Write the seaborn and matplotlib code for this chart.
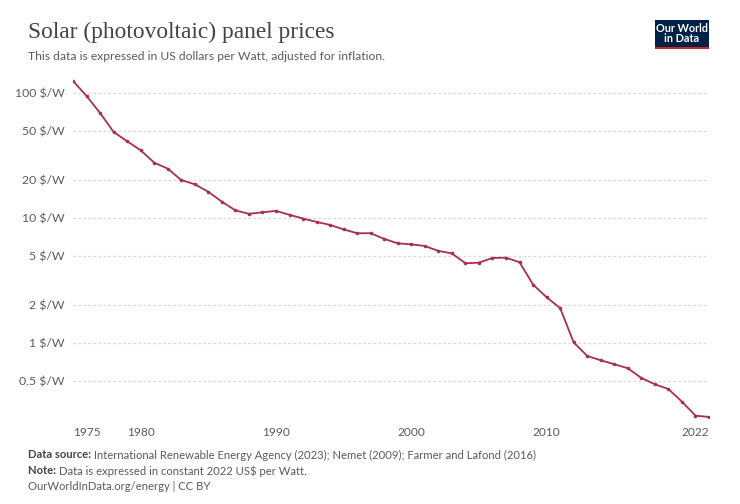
import pandas as pd
import seaborn as sns
import matplotlib.pyplot as plt
import numpy as np
from matplotlib.patches import Rectangle
from matplotlib.ticker import FixedLocator, NullLocator

# Data (US$ per Watt, constant 2022 dollars)
years = list(range(1975, 2023))
prices = [125.0, 94.6, 69.2, 48.8, 41.1, 34.8, 27.7, 24.8, 20.1, 18.6,
          16.2, 13.5, 11.5, 10.8, 11.1, 11.4, 10.6, 9.9, 9.3, 8.8,
          8.1, 7.55, 7.55, 6.8, 6.27, 6.15, 5.97, 5.45, 5.21, 4.34,
          4.39, 4.79, 4.81, 4.42, 2.93, 2.32, 1.90, 1.01, 0.787, 0.727,
          0.676, 0.628, 0.525, 0.467, 0.428, 0.339, 0.262, 0.256]

y_ticks = [0.5, 1, 2, 5, 10, 20, 50, 100]
y_labels = ['0.5 $/W', '1 $/W', '2 $/W', '5 $/W', '10 $/W', '20 $/W', '50 $/W', '100 $/W']
x_ticks = [1975, 1980, 1990, 2000, 2010, 2022]

df = pd.DataFrame({'year': years, 'price': prices})

sns.set_style('white')
plt.rcParams['font.family'] = ['Lato', 'DejaVu Sans']

fig = plt.figure(figsize=(7.4, 5.04), dpi=100)
ax = fig.add_axes([73 / 740, 1 - 418 / 504, 636 / 740, 340 / 504])

line_color = '#a8304b'
sns.lineplot(data=df, x='year', y='price', ax=ax, color=line_color,
             linewidth=1.3, marker='o', markersize=2.6,
             markeredgewidth=0, zorder=3)

ax.set_yscale('log')
ax.set_xlim(1975, 2022)
ax.set_ylim(0.251, 131.8)

ax.yaxis.set_major_locator(FixedLocator(y_ticks))
ax.yaxis.set_minor_locator(NullLocator())
ax.set_yticklabels(y_labels)
ax.set_xticks(x_ticks)
ax.set_xticklabels([str(x) for x in x_ticks])

ax.grid(axis='y', color='#d6d6d6', linestyle=(0, (2, 2)), linewidth=0.9)
ax.grid(axis='x', visible=False)
for s in ax.spines.values():
    s.set_visible(False)

ax.tick_params(axis='y', length=0, pad=6, labelsize=8.8, labelcolor='#5b5b5b')
ax.tick_params(axis='x', length=3.5, width=0.8, color='#a0a0a0', direction='out',
               pad=3, labelsize=8.6, labelcolor='#5b5b5b')
xl = ax.get_xticklabels()
xl[0].set_ha('left')
xl[-1].set_ha('right')
ax.set_xlabel('')
ax.set_ylabel('')

# Title and subtitle
fig.text(28 / 740, 1 - 32 / 504, 'Solar (photovoltaic) panel prices',
         family=['Liberation Serif', 'DejaVu Serif'], fontsize=16.8,
         color='#444444', va='center', ha='left')
fig.text(28 / 740, 1 - 57 / 504,
         'This data is expressed in US dollars per Watt, adjusted for inflation.',
         fontsize=8.7, color='#5b5b5b', va='center', ha='left')

# Logo
fig.patches.append(Rectangle((655 / 740, 1 - 49 / 504), 54 / 740, 29 / 504,
                             transform=fig.transFigure, facecolor='#002147',
                             edgecolor='none'))
fig.patches.append(Rectangle((655 / 740, 1 - 49 / 504), 54 / 740, 2.5 / 504,
                             transform=fig.transFigure, facecolor='#ce261e',
                             edgecolor='none'))
fig.text(682 / 740, 1 - 33.5 / 504, 'Our World\nin Data', color='white',
         fontsize=7.8, fontweight='bold', ha='center', va='center',
         linespacing=1.0)

# Footer
fc = '#5b5b5b'
fs = 8.1
t = fig.text(28 / 740, 1 - 455 / 504, 'Data source: ', fontsize=fs,
             fontweight='bold', color='#444444', va='center', ha='left')
fig.canvas.draw()
bb = t.get_window_extent()
fig.text(bb.x1 / 740, 1 - 455 / 504,
         'International Renewable Energy Agency (2023); Nemet (2009); Farmer and Lafond (2016)',
         fontsize=fs, color=fc, va='center', ha='left')
t2 = fig.text(28 / 740, 1 - 471 / 504, 'Note: ', fontsize=fs,
              fontweight='bold', color='#444444', va='center', ha='left')
fig.canvas.draw()
bb2 = t2.get_window_extent()
fig.text(bb2.x1 / 740, 1 - 471 / 504,
         'Data is expressed in constant 2022 US$ per Watt.',
         fontsize=fs, color=fc, va='center', ha='left')
fig.text(28 / 740, 1 - 487 / 504, 'OurWorldInData.org/energy | CC BY',
         fontsize=fs, color=fc, va='center', ha='left')

fig.savefig('out.png', dpi=100)
